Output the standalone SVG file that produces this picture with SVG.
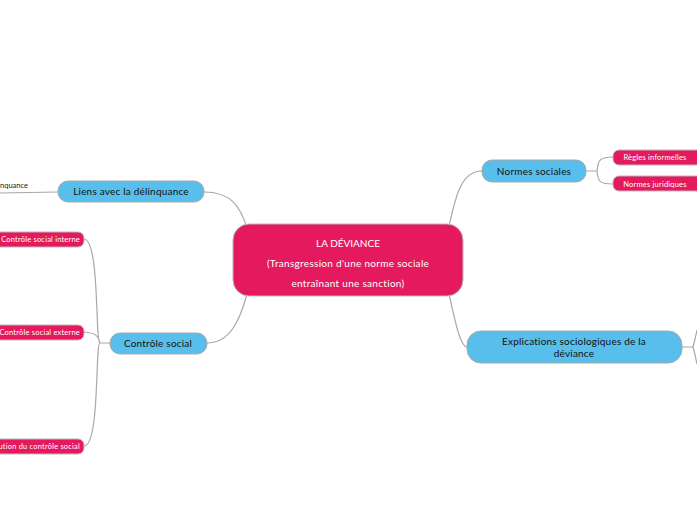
<svg xmlns="http://www.w3.org/2000/svg" width="697" height="520" viewBox="0 0 697 520">
<style>
text{font-family:Lato,"Noto Sans",sans-serif}
.c{fill:none;stroke:#a8a8a8;stroke-width:1.2}
.b{fill:#58bfec;stroke:#a8a8a8;stroke-width:1}
.p{fill:#e5195e;stroke:#b9b9b9;stroke-width:1}
.bt{font-size:10px;fill:#111;text-anchor:middle;letter-spacing:0.2px}
.pt{font-size:7.5px;fill:#fff;letter-spacing:0.2px}
</style>
<rect width="697" height="520" fill="#fff"/>
<g id="connectors">
<path class="c" d="M247 228 C240 205 230 192 204 192"/>
<path class="c" d="M247 294 C240 320 230 343 207 343"/>
<path class="c" d="M449 226 C455 200 460 171 482 171"/>
<path class="c" d="M449 294 C455 320 460 347 467 347"/>
<path class="c" d="M0 193 L58 192"/>
<path class="c" d="M110 343 L100 343 M100 343 C95 343 100 240 84 239 M100 343 C98 335 95 333 84 332 M100 343 C95 343 100 446 84 446"/>
<path class="c" d="M586 171 L597 171 M597 171 C598 160 600 157 613 157 M597 171 C598 182 600 184 613 184"/>
<path class="c" d="M682 347 L693 347 M693 347 C695 340 696 335 697 330 M693 347 C695 354 696 359 697 364"/>
</g>
<g id="center"><rect class="p" x="233" y="224" width="230" height="72" rx="16" stroke-width="1.5"/>
<text x="348" y="247" font-size="10" fill="#fff" text-anchor="middle">LA DÉVIANCE</text>
<text x="348" y="267" font-size="10" fill="#fff" text-anchor="middle" letter-spacing="0.3">(Transgression d'une norme sociale</text>
<text x="348" y="287" font-size="10" fill="#fff" text-anchor="middle" letter-spacing="0.3">entraînant une sanction)</text></g>
<g id="liens"><rect class="b" x="58" y="181" width="146" height="21" rx="10"/><text class="bt" x="131" y="195">Liens avec la délinquance</text></g>
<g id="controle"><rect class="b" x="110" y="333" width="97" height="21" rx="10"/><text class="bt" x="158" y="347">Contrôle social</text></g>
<g id="normes"><rect class="b" x="482" y="160" width="104" height="22" rx="10"/><text class="bt" x="534" y="175">Normes sociales</text></g>
<g id="explications"><rect class="b" x="467" y="331" width="215" height="32" rx="14"/><text class="bt" x="574" y="345">Explications sociologiques de la</text><text class="bt" x="574" y="357">déviance</text></g>
<g id="delinquance"><text x="28" y="188" font-size="7.5" fill="#222" text-anchor="end">Délinquance</text></g>
<g id="interne"><rect class="p" x="-40" y="232" width="124" height="15" rx="6"/><text class="pt" x="80" y="242" text-anchor="end">Contrôle social interne</text></g>
<g id="externe"><rect class="p" x="-40" y="325" width="124" height="15" rx="6"/><text class="pt" x="80" y="335" text-anchor="end">Contrôle social externe</text></g>
<g id="evolution"><rect class="p" x="-40" y="439" width="124" height="15" rx="6"/><text class="pt" x="80" y="449" text-anchor="end">Évolution du contrôle social</text></g>
<g id="regles"><rect class="p" x="613" y="150" width="90" height="15" rx="6"/><text class="pt" x="655" y="160" text-anchor="middle">Règles informelles</text></g>
<g id="juridiques"><rect class="p" x="613" y="176" width="90" height="15" rx="6"/><text class="pt" x="655" y="187" text-anchor="middle">Normes juridiques</text></g>
</svg>
